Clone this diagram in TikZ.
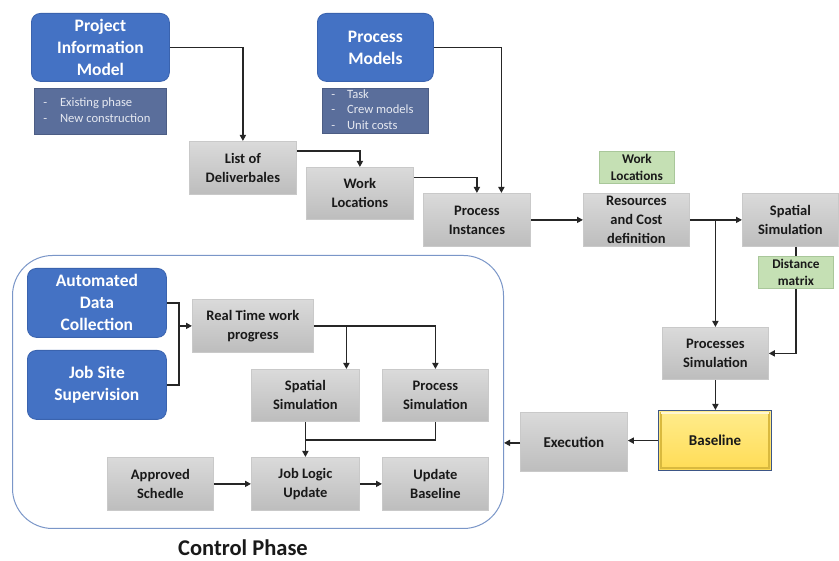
\documentclass[tikz,border=0pt]{standalone}
\usepackage{fontspec}
\setmainfont{Carlito}
\usetikzlibrary{arrows.meta,calc}

\definecolor{boxblue}{HTML}{4472C4}
\definecolor{boxblueline}{HTML}{3A63AE}
\definecolor{noteblue}{HTML}{5A6E9B}
\definecolor{notetext}{HTML}{E6E9F1}
\definecolor{grayTop}{HTML}{DADADA}
\definecolor{grayBot}{HTML}{BDBDBD}
\definecolor{grayLine}{HTML}{C9C9C9}
\definecolor{greenFill}{HTML}{C5E0B4}
\definecolor{greenLine}{HTML}{A9C79A}
\definecolor{linkgray}{HTML}{262626}
\definecolor{frameblue}{HTML}{7A96C8}
\definecolor{yellowTop}{HTML}{FFEC8C}
\definecolor{yellowBot}{HTML}{FFDC55}
\definecolor{yellowBevel}{HTML}{D9B93E}
\definecolor{yellowLine}{HTML}{3D5686}

\tikzset{
  blue box/.style={anchor=north west, rounded corners=9pt, fill=boxblue,
    draw=boxblueline, line width=0.8pt, text=white, align=center, inner sep=0pt,
    font=\bfseries\fontsize{17.5}{22}\selectfont},
  gray box/.style={anchor=north west, top color=grayTop, bottom color=grayBot,
    draw=grayLine, line width=0.8pt, text=black!90, align=center, inner sep=0pt,
    font=\bfseries\fontsize{14.5}{19}\selectfont},
  note box/.style={anchor=north west, fill=noteblue, draw=noteblue!85!black,
    line width=0.5pt, text=notetext, inner sep=0pt,
    font=\fontsize{12.6}{15.6}\selectfont},
  green box/.style={anchor=north west, fill=greenFill, draw=greenLine,
    line width=0.8pt, text=black!90, align=center, inner sep=0pt,
    font=\bfseries\fontsize{13.3}{16.5}\selectfont},
  link/.style={draw=linkgray, line width=1.5pt, -{Triangle[length=6pt,width=6pt]}},
  plain link/.style={draw=linkgray, line width=1.5pt},
}

\begin{document}
\begin{tikzpicture}[x=1pt,y=-1pt]
\useasboundingbox[fill=white] (0,0) rectangle (839,561);

% control phase frame
\node[anchor=north west, draw=frameblue, line width=1pt, rounded corners=40pt,
      minimum width=491pt, minimum height=273pt, inner sep=0pt] (ctrl) at (12,255) {};
\node[font=\bfseries\fontsize{22.5}{26}\selectfont, text=black!90] (ctrltitle) at (243,548) {Control Phase};

% planning sources
\node[blue box, minimum width=138pt, minimum height=68pt] (pim) at (31,13) {Project\\Information\\Model};
\node[note box, minimum width=132pt, minimum height=46pt] (pimnote) at (34,88) {};
\node[note box, anchor=west, fill=none, draw=none] (pimnotetxt) at ([xshift=9pt]pimnote.west)
  {\begin{tabular}{@{}l@{\hspace{13pt}}l@{}}-&Existing phase\\-&New construction\end{tabular}};

\node[blue box, minimum width=116pt, minimum height=68pt] (pm) at (317,13) {Process\\Models};
\node[note box, minimum width=106pt, minimum height=45pt] (pmnote) at (322,88) {};
\node[note box, anchor=west, fill=none, draw=none] (pmnotetxt) at ([xshift=9pt]pmnote.west)
  {\begin{tabular}{@{}l@{\hspace{12pt}}l@{}}-&Task\\-&Crew models\\-&Unit costs\end{tabular}};

% planning chain
\node[gray box, minimum width=107pt, minimum height=53pt] (lod) at (189,141) {List of\\Deliverbales};
\node[gray box, minimum width=107pt, minimum height=52pt] (wl) at (306,167) {Work\\Locations};
\node[gray box, minimum width=107pt, minimum height=53pt] (pi) at (423,193) {Process\\Instances};
\node[gray box, minimum width=106pt, minimum height=53pt] (res) at (583,193) {Resources\\and Cost\\definition};
\node[green box, minimum width=75pt, minimum height=32pt] (wlg) at (599,151) {Work\\Locations};
\node[gray box, minimum width=96pt, minimum height=53pt] (ss) at (742,193) {Spatial\\Simulation};
\node[green box, minimum width=75pt, minimum height=32pt] (dm) at (758,256) {Distance\\matrix};
\node[gray box, minimum width=106pt, minimum height=52pt] (ps) at (662,327) {Processes\\Simulation};

% baseline with bevelled frame
\node[anchor=north west, top color=yellowTop, bottom color=yellowBot, draw=yellowLine,
      line width=1.2pt, minimum width=113pt, minimum height=60pt, inner sep=0pt,
      font=\bfseries\fontsize{15}{18}\selectfont, text=black!90] (bl) at (658,410) {Baseline};
\draw[yellowBevel, line width=1.6pt] ([shift={(3pt,3pt)}]bl.south west) rectangle ([shift={(-3pt,-3pt)}]bl.north east);
\draw[white!60!yellowTop, line width=1.2pt] ([shift={(3pt,-3pt)}]bl.north west) -- ([shift={(-3pt,-3pt)}]bl.north east);

\node[gray box, minimum width=107pt, minimum height=59pt, font=\bfseries\fontsize{15}{18}\selectfont] (exec) at (520,412) {Execution};

% control phase contents
\node[blue box, minimum width=139pt, minimum height=69pt] (adc) at (27,268) {Automated\\Data\\Collection};
\node[blue box, minimum width=139pt, minimum height=69pt] (jss) at (27,350) {Job Site\\Supervision};
\node[gray box, minimum width=121pt, minimum height=53pt] (rt) at (192,299) {Real Time work\\progress};
\node[gray box, minimum width=108pt, minimum height=52pt] (ssi) at (251,369) {Spatial\\Simulation};
\node[gray box, minimum width=106pt, minimum height=52pt] (psi) at (382,369) {Process\\Simulation};
\node[gray box, minimum width=106pt, minimum height=53pt] (as) at (107,457) {Approved\\Schedle};
\node[gray box, minimum width=108pt, minimum height=53pt] (jlu) at (251,457) {Job Logic\\Update};
\node[gray box, minimum width=106pt, minimum height=53pt] (ub) at (382,457) {Update\\Baseline};

% planning connectors
\draw[link] (pim.east) -| (lod.north);
\draw[link] ([yshift=17pt]lod.east) -| (wl.north);
\draw[link] ([yshift=16pt]wl.east) -| (pi.north);
\draw[link] (pm.east) -| ([xshift=24.5pt]pi.north);
\draw[link] (pi.east) -- (pi.east -| res.west);
\draw[link] (res.east) -- (res.east -| ss.west);
\draw[link] (ps.north |- res.east) -- (ps.north);
\draw[plain link] (dm.north |- ss.south) -- (dm.north);
\draw[link] (dm.south) |- (ps.east);
\draw[link] (ps.south) -- (ps.south |- bl.north);
\draw[link] (bl.west) -- (bl.west -| exec.east);
\draw[link] ([yshift=-1pt]exec.west) -- ([yshift=-1pt]exec.west -| ctrl.east);

% control connectors
\coordinate (join) at ($(rt.west)+(-13pt,0)$);
\draw[plain link] (adc.east) -| (join) |- (jss.east);
\draw[link] (join) -- (rt.west);
\draw[link] (rt.east) -| (psi.north);
\draw[link] ([xshift=41pt]ssi.north |- rt.east) -- ([xshift=41pt]ssi.north);
\coordinate (merge) at ($(ssi.south)+(0,18)$);
\draw[plain link] (psi.south) |- (merge);
\draw[link] (ssi.south) -- (jlu.north);
\draw[link] (as.east) -- (jlu.west);
\draw[link] (jlu.east) -- (ub.west);
\end{tikzpicture}
\end{document}
